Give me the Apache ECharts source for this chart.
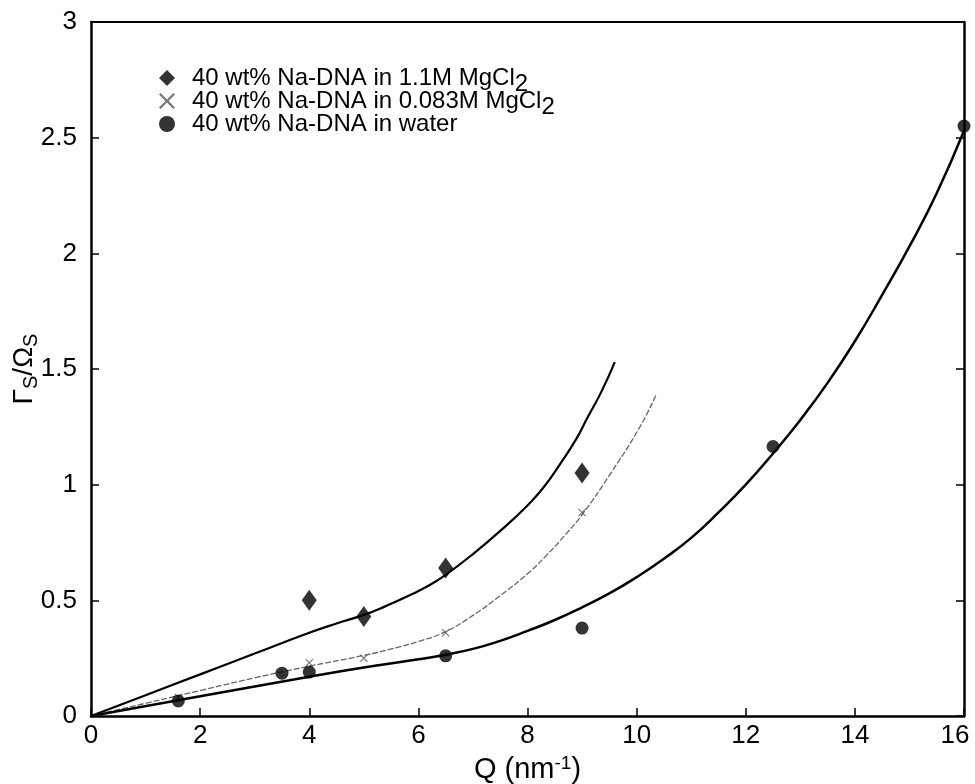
<!DOCTYPE html>
<html>
<head>
<meta charset="utf-8">
<script src="https://cdn.jsdelivr.net/npm/echarts@6/dist/echarts.min.js"></script>
<style>html,body{margin:0;padding:0;background:#fff}#c{width:975px;height:784px}</style>
</head>
<body>
<div id="c"></div>
<script>
// Measured points
const mg11Pts = [[4, 0.50], [5, 0.43], [6.5, 0.64], [9, 1.05]];
const mg083Pts = [[1.6, 0.08], [4, 0.23], [5, 0.25], [6.5, 0.36], [9, 0.88]];
const waterPts = [[1.6, 0.065], [3.5, 0.185], [4, 0.19], [6.5, 0.26], [9, 0.38], [12.5, 1.165], [16, 2.55]];

// Fitted curves
const mg11Curve = [[0, 0], [1, 0.09], [2, 0.18], [3, 0.27], [4, 0.36], [4.5, 0.40], [5, 0.437], [5.4, 0.475], [5.85, 0.523], [6.2, 0.565], [6.5, 0.61], [7, 0.70], [7.5, 0.80], [8, 0.91], [8.3, 0.99], [8.6, 1.09], [8.9, 1.20], [9.1, 1.29], [9.35, 1.40], [9.6, 1.53]];
const mg083Curve = [[0, 0], [1, 0.055], [2, 0.11], [3, 0.165], [4, 0.215], [5, 0.262], [5.5, 0.29], [6, 0.322], [6.5, 0.365], [7, 0.435], [7.5, 0.52], [8, 0.615], [8.35, 0.695], [8.7, 0.785], [9, 0.87], [9.5, 1.04], [10.06, 1.25], [10.36, 1.39]];
const waterCurve = [[0, 0], [2, 0.085], [4, 0.17], [5, 0.21], [6, 0.245], [6.5, 0.265], [7, 0.29], [7.5, 0.325], [8, 0.368], [8.5, 0.415], [9, 0.47], [9.5, 0.53], [10, 0.60], [10.5, 0.68], [11, 0.77], [11.5, 0.88], [12, 1.0], [12.5, 1.135], [13, 1.28], [13.5, 1.44], [14, 1.62], [14.5, 1.82], [15, 2.03], [15.5, 2.26], [16, 2.53]];

const xTicks = { min: 0, max: 16, interval: 2 };
const yTicks = { min: 0, max: 3, interval: 0.5 };

const names = ['40 wt% Na-DNA in 1.1M MgCl2', '40 wt% Na-DNA in 0.083M MgCl2', '40 wt% Na-DNA in water'];

const FONT = 'Liberation Sans';
const crossPath = 'path://M0,1 L1,0 L5,4 L9,0 L10,1 L6,5 L10,9 L9,10 L5,6 L1,10 L0,9 L4,5Z';

const chart = echarts.init(document.getElementById('c'), null, { renderer: 'canvas' });
chart.setOption({
  backgroundColor: '#fff',
  animation: false,
  textStyle: { fontFamily: FONT, color: '#000' },
  grid: { left: 91, right: 11, top: 22, bottom: 68, containLabel: false, outerBoundsMode: 'none' },
  legend: {
    orient: 'vertical', left: 154, top: 61, itemGap: -7,
    itemWidth: 16, itemHeight: 16,
    data: names,
    textStyle: {
      fontFamily: FONT, fontSize: 24, color: '#000',
      rich: {
        n: { fontFamily: FONT, fontSize: 24, color: '#000', padding: [0, 0, 0, 12] },
        s: { fontFamily: FONT, fontSize: 24, color: '#000', verticalAlign: 'bottom', padding: [12, 0, 0, 0] }
      }
    },
    formatter: function (name) {
      if (name.endsWith('MgCl2')) return '{n|' + name.slice(0, -1) + '}{s|2}';
      return '{n|' + name + '}{s| }';
    }
  },
  xAxis: [{
    type: 'value', min: xTicks.min, max: xTicks.max, interval: xTicks.interval,
    name: 'Q (nm{sup|-1})', nameLocation: 'middle', nameGap: 37,
    nameTextStyle: { fontFamily: FONT, fontSize: 29, color: '#000', rich: { sup: { fontSize: 19, fontFamily: FONT, color: '#000', verticalAlign: 'top', padding: [0, 0, 13, 0] } } },
    axisLine: { onZero: false, lineStyle: { color: '#000', width: 2.5 } },
    axisTick: { inside: true, length: 8, lineStyle: { color: '#000', width: 1.5 } },
    axisLabel: {
      fontFamily: FONT, fontSize: 26, color: '#000', margin: 7,
      formatter: function (v) { return v === xTicks.max ? '{r|' + v + '}' : String(v); },
      rich: { r: { fontFamily: FONT, fontSize: 26, color: '#000', padding: [0, 18, 0, 0] } }
    },
    splitLine: { show: false }
  }, {
    type: 'value', position: 'top', min: xTicks.min, max: xTicks.max, interval: xTicks.interval,
    axisLine: { show: true, onZero: false, lineStyle: { color: '#000', width: 2 } },
    axisTick: { show: false }, axisLabel: { show: false }, splitLine: { show: false }
  }],
  yAxis: [{
    type: 'value', min: yTicks.min, max: yTicks.max, interval: yTicks.interval,
    name: '{m|Γ}{s|S}{m|/Ω}{s|S}', nameLocation: 'middle', nameGap: 50, nameRotate: 90, nameMoveOverlap: false,
    nameTextStyle: { fontFamily: FONT, fontSize: 28, color: '#000', rich: { m: { fontFamily: FONT, fontSize: 28, color: '#000' }, s: { fontFamily: FONT, fontSize: 20, color: '#000', verticalAlign: 'bottom', padding: [14, 0, 0, 0] } } },
    axisLine: { onZero: false, lineStyle: { color: '#000', width: 2.5 } },
    axisTick: { inside: true, length: 8, lineStyle: { color: '#000', width: 1.5 } },
    axisLabel: { fontFamily: FONT, fontSize: 26, color: '#000', margin: 14 },
    splitLine: { show: false }
  }, {
    type: 'value', position: 'right', min: yTicks.min, max: yTicks.max, interval: yTicks.interval,
    axisLine: { show: true, onZero: false, lineStyle: { color: '#000', width: 2.5 } },
    axisTick: { show: true, inside: true, length: 8, lineStyle: { color: '#000', width: 1.5 } },
    axisLabel: { show: false }, splitLine: { show: false }
  }],
  series: [
    { name: 'fit1', type: 'line', data: mg11Curve, smooth: 0.5, showSymbol: false, lineStyle: { color: '#000', width: 2.2 }, z: 2 },
    { name: 'fit2', type: 'line', data: mg083Curve, smooth: 0.5, showSymbol: false, lineStyle: { color: '#666', width: 1.3, type: [6, 2] }, z: 2 },
    { name: 'fit3', type: 'line', data: waterCurve, smooth: 0.5, showSymbol: false, lineStyle: { color: '#000', width: 2.5 }, z: 2 },
    { name: names[0], type: 'scatter', data: mg11Pts, symbol: 'diamond', symbolSize: [15, 21], itemStyle: { color: '#000' }, z: 3 },
    { name: names[1], type: 'scatter', data: mg083Pts, symbol: crossPath, symbolSize: 8, itemStyle: { color: '#555' }, z: 3 },
    { name: names[2], type: 'scatter', data: waterPts, symbol: 'circle', symbolSize: 13, itemStyle: { color: '#000' }, z: 3 }
  ]
});
</script>
</body>
</html>
